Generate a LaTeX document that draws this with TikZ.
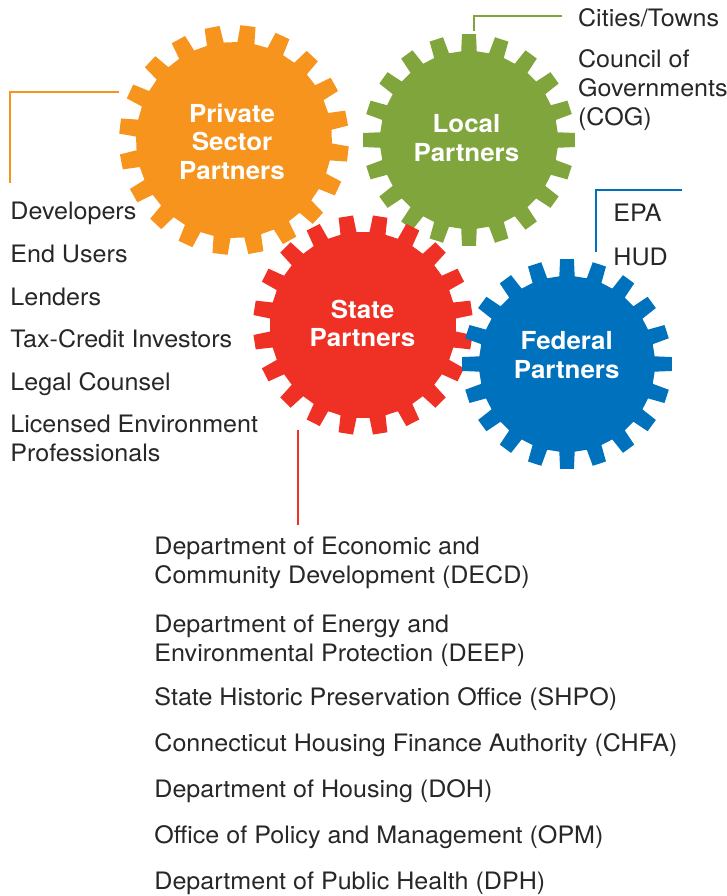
\documentclass[tikz,border=0pt]{standalone}
\usepackage{fontspec}
\setmainfont{TeX Gyre Heros}[FakeStretch=1.045]
\usepackage{xcolor}
\usetikzlibrary{positioning}

\definecolor{gearorange}{RGB}{247,148,30}
\definecolor{geargreen}{RGB}{128,165,60}
\definecolor{gearred}{RGB}{238,49,36}
\definecolor{gearblue}{RGB}{0,113,188}
\definecolor{textgray}{RGB}{40,38,38}

\begin{document}
\begin{tikzpicture}[
    x=0.5pt, y=-0.5pt,
    item/.style={anchor=base west, align=left, inner sep=0pt, text=textgray, font=\fontsize{12}{14.5}\selectfont},
    gearlabel/.style={anchor=base, align=center, inner sep=0pt, text=white, font=\bfseries\fontsize{12.4}{14.2}\selectfont},
    bracket/.style={line width=1pt},
]
\useasboundingbox (0,0) rectangle (727,896);

% Gears: x/y/outer radius/phase/colour
\foreach \cx/\cy/\R/\p/\col in {234/140/115/7/gearorange, 469/140/106/0/geargreen, 363/325/110/9/gearred, 567/364/105/0/gearblue}
  \fill[\col, shift={(\cx,\cy)}] ({\p-5}:{\R-17})
    \foreach \k in {0,...,19}{ -- ({\p+18*\k-5}:{\R-17}) -- ({\p+18*\k-3.8}:\R) -- ({\p+18*\k+3.8}:\R) -- ({\p+18*\k+5}:{\R-17}) } -- cycle;

% Gear labels (placed at the last baseline)
\node[gearlabel] (private) at (232, 179.3) {Private\\Sector\\Partners};
\node[gearlabel] (local) at (466.5, 161) {Local\\Partners};
\node[gearlabel] (state) at (362.5, 346.7) {State\\Partners};
\node[gearlabel] (federal) at (566.7, 378.3) {Federal\\Partners};

% Private sector partners
\node[item] (developers) at (10, 219.3) {Developers};
\node[item] (endusers) at (10, 262.7) {End Users};
\node[item] (lenders) at (10, 305) {Lenders};
\node[item] (investors) at (10, 347.7) {Tax-Credit Investors};
\node[item] (counsel) at (10, 390) {Legal Counsel};
\node[item] (lep) at (10, 461) {Licensed Environment\\Professionals};

% Local partners
\node[item] (cities) at (577.7, 26.7) {Cities/Towns};
\node[item] (cog) at (577.7, 125) {Council of\\Governments\\(COG)};

% Federal partners
\node[item] (epa) at (613, 221.7) {EPA};
\node[item] (hud) at (613, 265) {HUD};

% State partners
\node[item] (decd) at (154, 583.3) {Department of Economic and\\Community Development (DECD)};
\node[item] (deep) at (154, 661.7) {Department of Energy and\\Environmental Protection (DEEP)};
\node[item] (shpo) at (154, 705) {State Historic Preservation Office (SHPO)};
\node[item] (chfa) at (154, 751.7) {Connecticut Housing Finance Authority (CHFA)};
\node[item] (doh) at (154, 797.7) {Department of Housing (DOH)};
\node[item] (opm) at (154, 843.3) {Office of Policy and Management (OPM)};
\node[item] (dph) at (154, 889) {Department of Public Health (DPH)};

% Brackets
\coordinate (privA) at (119, 92);
\coordinate (privB) at (10, 183);
\coordinate (locA) at (562, 16);
\coordinate (locB) at (473.5, 31);
\coordinate (fedA) at (682, 190);
\coordinate (fedB) at (596, 252);
\coordinate (stateA) at (298, 430);
\coordinate (stateB) at (298, 525);
\draw[bracket, gearorange] (privA) -| (privB);
\draw[bracket, geargreen] (locA) -| (locB);
\draw[bracket, gearblue] (fedA) -| (fedB);
\draw[bracket, gearred] (stateA) -- (stateB);

\end{tikzpicture}
\end{document}
